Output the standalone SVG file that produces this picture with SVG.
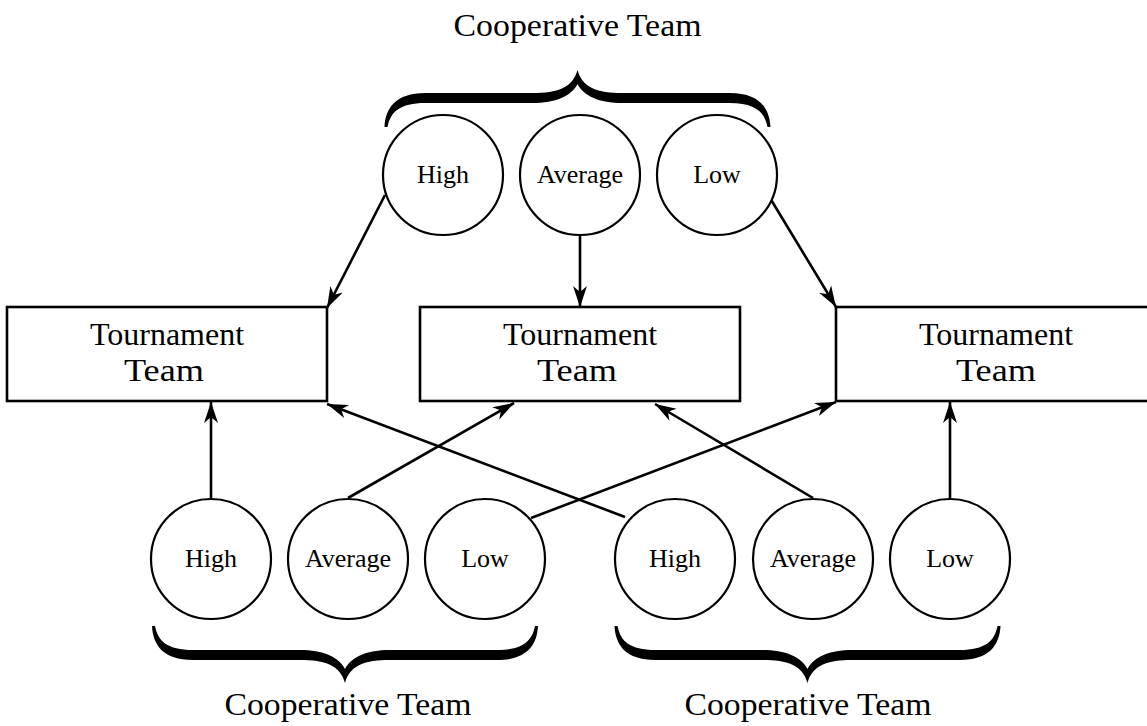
<svg xmlns="http://www.w3.org/2000/svg" width="1147" height="726" viewBox="0 0 1147 726">
<style>
.c{fill:#fff;stroke:#000;stroke-width:2.2}
.b{fill:#fff;stroke:#000;stroke-width:2.6}
.t{font-family:"Liberation Serif","Times New Roman",serif;fill:#000;text-anchor:middle}
.cl{font-size:26px}
.bl{font-size:32px}
.hl{font-size:32px}
.e{stroke:#000;stroke-width:2.6;fill:none;marker-end:url(#ah)}
.br{fill:#000}
</style>
<defs>
<marker id="ah" markerUnits="userSpaceOnUse" markerWidth="24" markerHeight="16" refX="21" refY="7" orient="auto">
<path d="M0,0 L21,7 L0,14 L6,7 Z" fill="#000"/>
</marker>
<path id="brace" d="M-193,127 C-192,108 -182,93 -152,93 L-45,93 C-20,93 -5,88 0,70 C5,88 20,93 45,93 L152,93 C182,93 192,108 193,127 L190,127 C187,112 178,103 152,103 L45,103 C22,103 6,96 0,84 C-6,96 -22,103 -45,103 L-152,103 C-178,103 -187,112 -190,127 Z"/>
</defs>
<rect width="1147" height="726" fill="#fff"/>

<g id="connectors">
<line class="e" x1="385" y1="195" x2="327" y2="308"/>
<line class="e" x1="580" y1="236" x2="580" y2="307"/>
<line class="e" x1="770" y1="198" x2="836" y2="307"/>
<line class="e" x1="211" y1="498" x2="211" y2="402"/>
<line class="e" x1="348" y1="498" x2="514" y2="403"/>
<line class="e" x1="531" y1="518" x2="836" y2="402"/>
<line class="e" x1="625" y1="517" x2="327" y2="404"/>
<line class="e" x1="813" y1="498" x2="655" y2="404"/>
<line class="e" x1="950" y1="498" x2="950" y2="402"/>
</g>

<g id="brace-top"><use href="#brace" class="br" transform="translate(577.5,0)"/>
<text class="t hl" x="577.5" y="36" textLength="248" lengthAdjust="spacingAndGlyphs">Cooperative Team</text></g>
<g id="brace-bottom-left"><use href="#brace" class="br" transform="translate(345,753) scale(1,-1)"/>
<text class="t hl" x="348" y="715" textLength="247" lengthAdjust="spacingAndGlyphs">Cooperative Team</text></g>
<g id="brace-bottom-right"><use href="#brace" class="br" transform="translate(807.5,753) scale(1,-1)"/>
<text class="t hl" x="808" y="715" textLength="247" lengthAdjust="spacingAndGlyphs">Cooperative Team</text></g>

<g id="top-high"><circle class="c" cx="443" cy="175" r="60"/><text class="t cl" x="443" y="183">High</text></g>
<g id="top-average"><circle class="c" cx="580" cy="175" r="60"/><text class="t cl" x="580" y="183">Average</text></g>
<g id="top-low"><circle class="c" cx="717" cy="175" r="60"/><text class="t cl" x="717" y="183">Low</text></g>

<g id="box-left"><rect class="b" x="7" y="307" width="320" height="94"/>
<text class="t bl" x="167" y="345">Tournament</text><text class="t bl" x="164" y="381" textLength="80" lengthAdjust="spacingAndGlyphs">Team</text></g>
<g id="box-middle"><rect class="b" x="420" y="307" width="320" height="94"/>
<text class="t bl" x="580" y="345">Tournament</text><text class="t bl" x="577" y="381" textLength="80" lengthAdjust="spacingAndGlyphs">Team</text></g>
<g id="box-right"><rect class="b" x="836" y="307" width="320" height="94"/>
<text class="t bl" x="996" y="345">Tournament</text><text class="t bl" x="996" y="381" textLength="80" lengthAdjust="spacingAndGlyphs">Team</text></g>

<g id="bl-high"><circle class="c" cx="211" cy="559" r="60"/><text class="t cl" x="211" y="567">High</text></g>
<g id="bl-average"><circle class="c" cx="348" cy="559" r="60"/><text class="t cl" x="348" y="567">Average</text></g>
<g id="bl-low"><circle class="c" cx="485" cy="559" r="60"/><text class="t cl" x="485" y="567">Low</text></g>
<g id="br-high"><circle class="c" cx="675" cy="559" r="60"/><text class="t cl" x="675" y="567">High</text></g>
<g id="br-average"><circle class="c" cx="813" cy="559" r="60"/><text class="t cl" x="813" y="567">Average</text></g>
<g id="br-low"><circle class="c" cx="950" cy="559" r="60"/><text class="t cl" x="950" y="567">Low</text></g>
</svg>
